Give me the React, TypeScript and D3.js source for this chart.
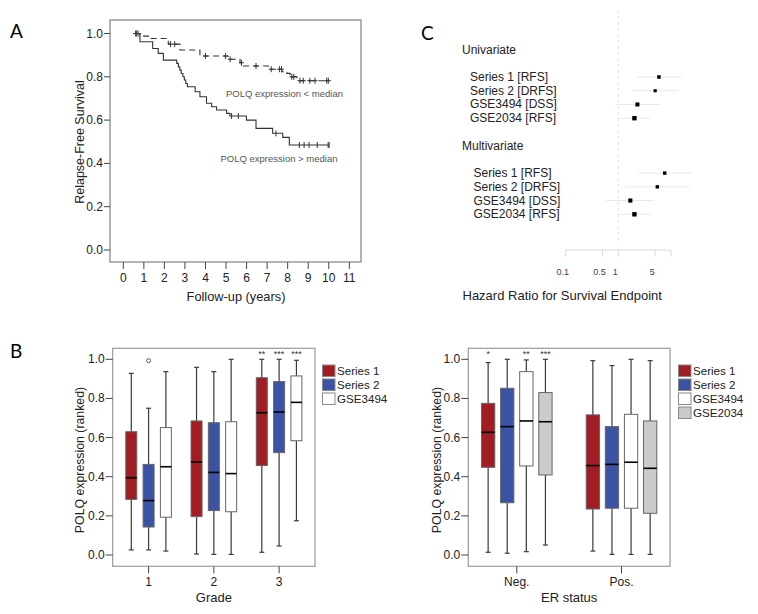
import * as d3 from "d3";

const FONT = "'Liberation Sans', Arial, sans-serif";
const LETTER_FONT = "Lato, 'Open Sans', sans-serif";

// ---- panel A: Kaplan-Meier curves ----
const kmYears = [0, 1, 2, 3, 4, 5, 6, 7, 8, 9, 10, 11];
const kmSurvTicks = [0, 0.2, 0.4, 0.6, 0.8, 1.0];

// POLQ < median (dashed)
const lowTime = [0.6, 0.81, 1.3, 2.19, 2.76, 3.73, 5.1, 5.68, 5.84, 7.06, 7.71, 7.96, 8.12, 8.45, 10.02];
const lowSurv = [1.0, 0.988, 0.977, 0.951, 0.924, 0.896, 0.881, 0.865, 0.85, 0.835, 0.824, 0.816, 0.8, 0.782, 0.782];
const lowCensor = [0.6, 0.72, 2.3, 2.5, 4.0, 4.97, 5.2, 5.75, 6.46, 7.2, 7.6, 7.7, 8.2, 8.3, 8.6, 8.76, 9.08, 9.33, 9.9, 9.98];

// POLQ > median (solid)
const highTime = [0.6, 0.81, 1.43, 1.7, 1.95, 2.6, 2.68, 2.75, 2.82, 2.9, 2.97, 3.04, 3.12, 3.5, 3.73, 4.05, 4.3, 4.54, 5.03, 5.19, 5.99, 6.46, 7.27, 7.76, 8.08, 10.02];
const highSurv = [1.0, 0.962, 0.931, 0.908, 0.877, 0.862, 0.846, 0.831, 0.815, 0.8, 0.785, 0.769, 0.754, 0.731, 0.708, 0.678, 0.662, 0.647, 0.631, 0.619, 0.6, 0.562, 0.539, 0.52, 0.485, 0.485];
const highCensor = [0.65, 5.27, 5.6, 7.43, 8.57, 8.8, 9.04, 9.44, 9.97, 10.02];

// ---- panel C: forest plot ----
const forestLabels = ["Series 1 [RFS]", "Series 2 [DRFS]", "GSE3494 [DSS]", "GSE2034 [RFS]"];
const uniHR = [5.9, 5.0, 2.3, 2.02];
const uniLo = [2.24, 1.85, 0.86, 1.03];
const uniHi = [16, 13.8, 6.2, 4.0];
const uniWeight = [0.5, 0.3, 0.8, 1.0];
const multiHR = [7.6, 5.5, 1.69, 2.02];
const multiLo = [2.4, 1.34, 0.58, 1.03];
const multiHi = [24.8, 22.4, 4.8, 4.1];
const multiWeight = [0.45, 0.45, 0.85, 1.0];
const hrTicks = [0.1, 0.5, 1, 5, 10];
const hrTickLabels = ["0.1", "0.5", "1", "5", ""];

// ---- panel B: box plots (min, Q1, median, Q3, max) ----
const exprTicks = [0, 0.2, 0.4, 0.6, 0.8, 1.0];

const gradeGroups = ["1", "2", "3"];
const gradeSeries = ["Series 1", "Series 2", "GSE3494"];
const gradeS1 = [[0.026, 0.284, 0.395, 0.63, 0.928], [0.005, 0.196, 0.475, 0.685, 0.959], [0.014, 0.457, 0.727, 0.906, 1.0]];
const gradeS2 = [[0.026, 0.143, 0.278, 0.463, 0.75], [0.003, 0.227, 0.422, 0.676, 0.937], [0.046, 0.523, 0.731, 0.886, 1.0]];
const gradeGSE3494 = [[0.02, 0.193, 0.451, 0.651, 0.937], [0.003, 0.221, 0.416, 0.681, 1.0], [0.175, 0.584, 0.78, 0.915, 0.995]];
const gradeStars = [["", "", ""], ["", "", ""], ["**", "***", "***"]];
const gradeOutliers = [{ group: 0, series: 1, v: 0.993 }];

const erGroups = ["Neg.", "Pos."];
const erSeries = ["Series 1", "Series 2", "GSE3494", "GSE2034"];
const erS1 = [[0.014, 0.448, 0.627, 0.775, 0.983], [0.02, 0.235, 0.457, 0.716, 0.993]];
const erS2 = [[0.009, 0.267, 0.656, 0.852, 1.0], [0.003, 0.239, 0.463, 0.656, 0.968]];
const erGSE3494 = [[0.017, 0.455, 0.685, 0.937, 0.997], [0.003, 0.239, 0.474, 0.719, 1.0]];
const erGSE2034 = [[0.051, 0.409, 0.681, 0.83, 1.0], [0.003, 0.213, 0.443, 0.685, 0.993]];
const erStars = [["*", "", "**", "***"], ["", "", "", ""]];

const seriesColors = ["#a11d23", "#3c53a5", "#ffffff", "#cbcbcb"];

function KMPanel() {
  const left = 110, right = 361, top = 20, bottom = 262;
  const x = d3.scaleLinear().domain([0, 11]).range([123.3, 349.3]);
  const y = d3.scaleLinear().domain([0, 1]).range([250, 33.5]);
  const line = d3
    .line<[number, number]>()
    .curve(d3.curveStepAfter)
    .x((d) => x(d[0]))
    .y((d) => y(d[1]));
  const survAt = (times: number[], surv: number[], t: number) => {
    const i = d3.bisectRight(times, t) - 1;
    return surv[Math.max(0, i)];
  };
  const curve = (times: number[], surv: number[]) =>
    line(times.map((t, i) => [t, surv[i]] as [number, number])) || "";

  return (
    <g fontFamily={FONT}>
      <text x={10} y={38} fontSize={19} fontFamily={LETTER_FONT}>A</text>
      <rect x={left} y={top} width={right - left} height={bottom - top} fill="none" stroke="#8a8a8a" strokeWidth={1.3} />
      {kmSurvTicks.map((v) => (
        <g key={v}>
          <line x1={left - 6} x2={left} y1={y(v)} y2={y(v)} stroke="#444" />
          <text x={left - 7} y={y(v)} fontSize={12} textAnchor="end" dominantBaseline="central" fill="#222">
            {d3.format(".1f")(v)}
          </text>
        </g>
      ))}
      {kmYears.map((v) => (
        <g key={v}>
          <line x1={x(v)} x2={x(v)} y1={bottom} y2={bottom + 7} stroke="#444" />
          <text x={x(v)} y={278} fontSize={12} textAnchor="middle" dominantBaseline="central" fill="#222">
            {v}
          </text>
        </g>
      ))}
      <text x={236} y={296} fontSize={12.8} textAnchor="middle" dominantBaseline="central" fill="#222">
        Follow-up (years)
      </text>
      <text
        transform={`translate(80,142) rotate(-90)`}
        fontSize={12.5}
        textAnchor="middle"
        dominantBaseline="central"
        fill="#222"
      >
        Relapse-Free Survival
      </text>
      <path d={curve(lowTime, lowSurv)} fill="none" stroke="#333" strokeWidth={1.1} strokeDasharray="6,4" />
      <path d={curve(highTime, highSurv)} fill="none" stroke="#333" strokeWidth={1.1} />
      {lowCensor.map((t, i) => (
        <line key={"l" + i} x1={x(t)} x2={x(t)} y1={y(survAt(lowTime, lowSurv, t)) - 3} y2={y(survAt(lowTime, lowSurv, t)) + 3} stroke="#333" />
      ))}
      {lowCensor.map((t, i) => (
        <line key={"lh" + i} x1={x(t) - 2.5} x2={x(t) + 2.5} y1={y(survAt(lowTime, lowSurv, t))} y2={y(survAt(lowTime, lowSurv, t))} stroke="#333" />
      ))}
      {highCensor.map((t, i) => (
        <line key={"h" + i} x1={x(t)} x2={x(t)} y1={y(survAt(highTime, highSurv, t)) - 3} y2={y(survAt(highTime, highSurv, t)) + 3} stroke="#333" />
      ))}
      <text x={226} y={93} fontSize={9.5} fill="#555" dominantBaseline="central">POLQ expression &lt; median</text>
      <text x={220.5} y={158} fontSize={9.5} fill="#555" dominantBaseline="central">POLQ expression &gt; median</text>
    </g>
  );
}

function ForestPanel() {
  const x = d3.scaleLog().domain([0.1, 10]).range([565.7, 671]);
  const row = d3.scaleLinear().domain([0, 10]).range([77, 214.3]);
  const axisY = 250;
  const items = [
    ...forestLabels.map((l, i) => ({ label: l, hr: uniHR[i], lo: uniLo[i], hi: uniHi[i], w: uniWeight[i], r: i, lx: 470 })),
    ...forestLabels.map((l, i) => ({ label: l, hr: multiHR[i], lo: multiLo[i], hi: multiHi[i], w: multiWeight[i], r: i + 7, lx: 473.5 })),
  ];
  return (
    <g fontFamily={FONT}>
      <text x={421} y={40} fontSize={19} fontFamily={LETTER_FONT}>C</text>
      <line x1={x(1)} x2={x(1)} y1={10} y2={axisY - 6} stroke="#e2e2e2" strokeDasharray="3,3" />
      <text x={462} y={row(-2)} fontSize={12} dominantBaseline="central" fill="#222">Univariate</text>
      <text x={462} y={row(5)} fontSize={12} dominantBaseline="central" fill="#222">Multivariate</text>
      {items.map((d, i) => {
        const s = 2.6 + 1.8 * d.w;
        return (
          <g key={i}>
            <text x={d.lx} y={row(d.r)} fontSize={12} dominantBaseline="central" fill="#222">{d.label}</text>
            <line x1={x(d.lo)} x2={x(d.hi)} y1={row(d.r)} y2={row(d.r)} stroke="#e8e8e8" />
            <rect x={x(d.hr) - s / 2} y={row(d.r) - s / 2} width={s} height={s} fill="#000" />
          </g>
        );
      })}
      <line x1={x(0.1)} x2={x(10)} y1={axisY} y2={axisY} stroke="#dcdcdc" />
      {hrTicks.map((t, i) => (
        <g key={t}>
          <line x1={x(t)} x2={x(t)} y1={axisY} y2={axisY + 6.5} stroke="#dcdcdc" />
          <text x={x(t) - 3} y={271.5} fontSize={9} textAnchor="middle" dominantBaseline="central" fill="#444">
            {hrTickLabels[i]}
          </text>
        </g>
      ))}
      <text x={462.5} y={295} fontSize={13} dominantBaseline="central" fill="#222">
        Hazard Ratio for Survival Endpoint
      </text>
    </g>
  );
}

type BoxProps = {
  left: number;
  right: number;
  groups: string[];
  series: string[];
  stats: number[][][];
  stars: string[][];
  outliers: { group: number; series: number; v: number }[];
  padding: number;
  innerStep: number;
  boxW: number;
  legendX: number;
  title: string;
  yTitleX: number;
  letter?: string;
};

function BoxPanel(p: BoxProps) {
  const top = 348.3, bottom = 566.3;
  const y = d3.scaleLinear().domain([0, 1]).range([555, 359.3]);
  const gx = d3.scalePoint<string>().domain(p.groups).range([p.left, p.right]).padding(p.padding);
  const n = p.series.length;
  const off = (j: number) => (j - (n - 1) / 2) * p.innerStep;
  return (
    <g fontFamily={FONT}>
      {p.letter && <text x={10} y={358} fontSize={19} fontFamily={LETTER_FONT}>{p.letter}</text>}
      <rect x={p.left} y={top} width={p.right - p.left} height={bottom - top} fill="none" stroke="#999" strokeWidth={1.2} />
      {exprTicks.map((v) => (
        <g key={v}>
          <line x1={p.left - 7} x2={p.left} y1={y(v)} y2={y(v)} stroke="#444" />
          <text x={p.left - 8} y={y(v)} fontSize={12} textAnchor="end" dominantBaseline="central" fill="#222">
            {d3.format(".1f")(v)}
          </text>
        </g>
      ))}
      {p.groups.map((g) => (
        <g key={g}>
          <line x1={gx(g)!} x2={gx(g)!} y1={bottom} y2={bottom + 7} stroke="#444" />
          <text x={gx(g)!} y={582} fontSize={12} textAnchor="middle" dominantBaseline="central" fill="#222">{g}</text>
        </g>
      ))}
      <text x={(p.left + p.right) / 2} y={597} fontSize={13} textAnchor="middle" dominantBaseline="central" fill="#222">
        {p.title}
      </text>
      <text
        transform={`translate(${p.yTitleX},460) rotate(-90)`}
        fontSize={12.3}
        textAnchor="middle"
        dominantBaseline="central"
        fill="#222"
      >
        POLQ expression (ranked)
      </text>
      {p.series.map((s, j) =>
        p.groups.map((g, gi) => {
          const [mn, q1, md, q3, mx] = p.stats[j][gi];
          const cx = gx(g)! + off(j);
          const hw = p.boxW / 2;
          return (
            <g key={s + g}>
              <line x1={cx} x2={cx} y1={y(mx)} y2={y(q3)} stroke="#3a3a3a" strokeWidth={1.2} />
              <line x1={cx} x2={cx} y1={y(q1)} y2={y(mn)} stroke="#3a3a3a" strokeWidth={1.2} />
              <line x1={cx - 2.5} x2={cx + 2.5} y1={y(mx)} y2={y(mx)} stroke="#3a3a3a" strokeWidth={1.2} />
              <line x1={cx - 2.5} x2={cx + 2.5} y1={y(mn)} y2={y(mn)} stroke="#3a3a3a" strokeWidth={1.2} />
              <rect x={cx - hw} y={y(q3)} width={p.boxW} height={y(q1) - y(q3)} fill={seriesColors[j]} stroke="#666" strokeWidth={1} />
              <line x1={cx - hw} x2={cx + hw} y1={y(md)} y2={y(md)} stroke="#000" strokeWidth={1.6} />
              {p.stars[gi][j] && (
                <text x={cx} y={354} fontSize={9} textAnchor="middle" dominantBaseline="central" fill="#333">
                  {p.stars[gi][j]}
                </text>
              )}
            </g>
          );
        })
      )}
      {p.outliers.map((o, i) => (
        <circle key={i} cx={gx(p.groups[o.group])! + off(o.series)} cy={y(o.v)} r={2} fill="none" stroke="#555" />
      ))}
      {p.series.map((s, j) => (
        <g key={s}>
          <rect x={p.legendX} y={365 + j * 14} width={12.5} height={11.5} fill={seriesColors[j]} stroke="#888" />
          <text x={p.legendX + 14.5} y={370.8 + j * 14} fontSize={11.6} dominantBaseline="central" fill="#222">{s}</text>
        </g>
      ))}
    </g>
  );
}

export default function App() {
  return (
    <svg width={758} height={614} style={{ position: "absolute", left: 0, top: 0, background: "#fff" }}>
      <KMPanel />
      <ForestPanel />
      <BoxPanel
        letter="B"
        left={112.7}
        right={315}
        groups={gradeGroups}
        series={gradeSeries}
        stats={[gradeS1, gradeS2, gradeGSE3494]}
        stars={gradeStars}
        outliers={gradeOutliers}
        padding={0.55}
        innerStep={17.3}
        boxW={11}
        legendX={322.5}
        title="Grade"
        yTitleX={80}
      />
      <BoxPanel
        left={468.3}
        right={670}
        groups={erGroups}
        series={erSeries}
        stats={[erS1, erS2, erGSE3494, erGSE2034]}
        stars={erStars}
        outliers={[]}
        padding={0.463}
        innerStep={19.1}
        boxW={13.3}
        legendX={678.5}
        title="ER status"
        yTitleX={436.7}
      />
    </svg>
  );
}
